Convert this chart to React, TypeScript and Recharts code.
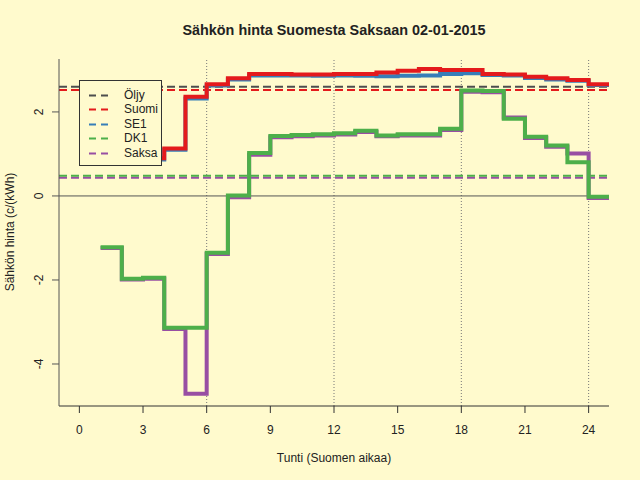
import { LineChart, Line, XAxis, YAxis, ReferenceLine } from "recharts";

const HOURS = [1, 2, 3, 4, 5, 6, 7, 8, 9, 10, 11, 12, 13, 14, 15, 16, 17, 18, 19, 20, 21, 22, 23, 24, 25];

// hourly prices in c/kWh, the last value repeats so that the final step reaches hour 25
// (hours 1-3 of Suomi and SE1 sit behind the legend box)
const SUOMI = [1.0, 0.95, 0.9, 1.13, 2.36, 2.66, 2.8, 2.9, 2.9, 2.89, 2.89, 2.9, 2.9, 2.94, 2.98, 3.02, 3.0, 3.0, 2.9, 2.89, 2.84, 2.8, 2.76, 2.66, 2.66];
const SE1 = [0.97, 0.92, 0.87, 1.1, 2.32, 2.63, 2.77, 2.87, 2.87, 2.87, 2.86, 2.87, 2.86, 2.85, 2.86, 2.87, 2.9, 2.92, 2.88, 2.87, 2.81, 2.77, 2.74, 2.64, 2.64];
const DK1 = [-1.22, -1.97, -1.95, -3.14, -3.14, -1.35, 0.01, 1.02, 1.43, 1.45, 1.47, 1.49, 1.55, 1.44, 1.47, 1.47, 1.6, 2.51, 2.5, 1.84, 1.41, 1.2, 0.8, -0.02, -0.02];
const SAKSA = [-1.24, -1.99, -1.97, -3.17, -4.71, -1.38, -0.03, 0.98, 1.4, 1.42, 1.44, 1.46, 1.52, 1.42, 1.44, 1.44, 1.57, 2.48, 2.47, 1.87, 1.38, 1.17, 1.01, -0.05, -0.05];

const NAMES = ["Öljy", "Suomi", "SE1", "DK1", "Saksa"];
const COLORS = ["#4d4d4d", "#E41A1C", "#377EB8", "#4DAF4A", "#984EA3"];
// daily averages, drawn as dashed lines
const AVERAGES = [2.6, 2.52, 2.52, 0.48, 0.435];
// SE1 is drawn before Suomi, so it hides under the red line like in the picture
const AVERAGE_ORDER = [0, 2, 1, 4, 3];

const X_TICKS = [0, 3, 6, 9, 12, 15, 18, 21, 24];
const Y_TICKS = [-4, -2, 0, 2];
const GRID_HOURS = [6, 12, 18, 24];

const BG = "#FFFACD";
const FONT = "'Liberation Sans', Arial, Helvetica, sans-serif";

const chartData = HOURS.map((h, i) => ({
  hour: h,
  Suomi: SUOMI[i],
  SE1: SE1[i],
  DK1: DK1[i],
  Saksa: SAKSA[i],
}));

function YTick({ x, y, payload }: any) {
  return (
    <text
      x={x}
      y={y}
      transform={`rotate(-90 ${x} ${y})`}
      textAnchor="middle"
      fontSize={12}
      fontFamily={FONT}
      fill="#222"
    >
      {payload.value}
    </text>
  );
}

function LegendBox() {
  return (
    <div
      style={{
        position: "absolute",
        left: 79,
        top: 80,
        width: 83,
        height: 86,
        border: "1px solid #333",
        background: BG,
        paddingTop: 7,
        boxSizing: "border-box",
      }}
    >
      {NAMES.map((name, i) => (
        <div key={name} style={{ position: "relative", height: 14.4, lineHeight: "14.4px" }}>
          <svg width={22} height={14} style={{ position: "absolute", left: 9, top: 0 }}>
            <line x1={0} y1={7.5} x2={20} y2={7.5} stroke={COLORS[i]} strokeWidth={2} strokeDasharray="7 5" />
          </svg>
          <span style={{ position: "absolute", left: 44, top: 0, fontSize: 12, fontFamily: FONT, color: "#222" }}>
            {name}
          </span>
        </div>
      ))}
    </div>
  );
}

export default function App() {
  return (
    <div style={{ position: "absolute", left: 0, top: 0, width: 640, height: 480, background: BG }}>
      <LineChart width={640} height={480} data={chartData} margin={{ top: 59, right: 31, bottom: 34, left: 19 }}>
        <XAxis
          xAxisId="b"
          dataKey="hour"
          type="number"
          domain={[-0.96, 24.96]}
          ticks={X_TICKS}
          allowDataOverflow
          height={40}
          tickSize={7}
          tickMargin={12}
          stroke="#333"
          tick={{ fill: "#222", fontSize: 12, fontFamily: FONT }}
        />
        <XAxis
          xAxisId="t"
          orientation="top"
          type="number"
          domain={[-0.96, 24.96]}
          height={0}
          tick={false}
          tickLine={false}
          stroke="#a8a48f"
        />
        <YAxis
          yAxisId="l"
          type="number"
          domain={[-5.0, 3.26]}
          ticks={Y_TICKS}
          allowDataOverflow
          width={40}
          tickSize={7}
          tickMargin={9}
          stroke="#555"
          tick={<YTick />}
        />
        <YAxis
          yAxisId="r"
          orientation="right"
          type="number"
          domain={[-5.0, 3.26]}
          width={0}
          tick={false}
          tickLine={false}
          stroke="#666"
        />
        {GRID_HOURS.map((h) => (
          <ReferenceLine key={h} x={h} xAxisId="b" yAxisId="l" stroke="#777" strokeDasharray="1 2" />
        ))}
        <ReferenceLine y={0} xAxisId="b" yAxisId="l" stroke="#555" />
        {AVERAGE_ORDER.map((i) => (
          <ReferenceLine
            key={NAMES[i]}
            y={AVERAGES[i]}
            xAxisId="b"
            yAxisId="l"
            stroke={COLORS[i]}
            strokeWidth={2}
            strokeDasharray="8 4"
          />
        ))}
        {["Saksa", "DK1", "SE1", "Suomi"].map((key) => (
          <Line
            key={key}
            xAxisId="b"
            yAxisId="l"
            dataKey={key}
            type="stepAfter"
            stroke={COLORS[NAMES.indexOf(key)]}
            strokeWidth={4}
            dot={false}
            activeDot={false}
            isAnimationActive={false}
          />
        ))}
      </LineChart>
      <LegendBox />
      <div
        style={{
          position: "absolute",
          left: 0,
          top: 23,
          width: 668,
          textAlign: "center",
          fontFamily: FONT,
          fontWeight: "bold",
          fontSize: 14.4,
          lineHeight: 1,
          color: "#222",
        }}
      >
        Sähkön hinta Suomesta Saksaan 02-01-2015
      </div>
      <div
        style={{
          position: "absolute",
          left: 0,
          top: 451,
          width: 668,
          textAlign: "center",
          fontFamily: FONT,
          fontSize: 12,
          lineHeight: "14px",
          color: "#222",
        }}
      >
        Tunti (Suomen aikaa)
      </div>
      <div
        style={{
          position: "absolute",
          left: 10 - 100,
          top: 232 - 7,
          width: 200,
          textAlign: "center",
          fontFamily: FONT,
          fontSize: 12,
          lineHeight: "14px",
          color: "#222",
          transform: "rotate(-90deg)",
        }}
      >
        Sähkön hinta (c/(kWh)
      </div>
    </div>
  );
}
